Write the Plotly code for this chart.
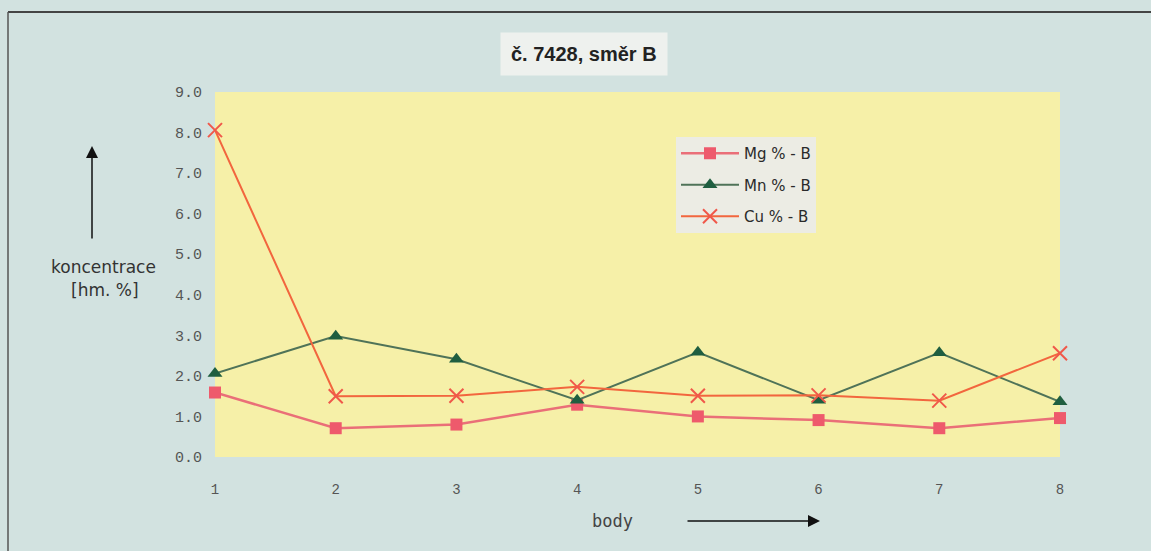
import plotly.graph_objects as go

# Measurement points along direction B
body = [1, 2, 3, 4, 5, 6, 7, 8]
mg = [1.59, 0.71, 0.80, 1.29, 1.00, 0.91, 0.71, 0.96]
mn = [2.06, 2.98, 2.41, 1.40, 2.58, 1.40, 2.57, 1.36]
cu = [8.06, 1.50, 1.51, 1.73, 1.51, 1.52, 1.39, 2.56]
y_ticks = [0, 1, 2, 3, 4, 5, 6, 7, 8, 9]

W, H = 1151, 551
L, R, T, B = 215, 91, 92, 94
PW, PH = W - L - R, H - T - B


def px(x):
    return (x - L) / PW


def py(y):
    return (H - B - y) / PH


fig = go.Figure()

fig.add_trace(go.Scatter(
    x=body, y=mg, name="Mg % - B", mode="lines+markers", legendgroup="a",
    line=dict(color="#ea6f78", width=2.5), cliponaxis=False,
    marker=dict(symbol="square", size=12, color="#ee5a6c"),
))
fig.add_trace(go.Scatter(
    x=body, y=mn, name="Mn % - B", mode="lines+markers", legendgroup="b",
    line=dict(color="#4f7358", width=2), cliponaxis=False,
    marker=dict(symbol="triangle-up", size=13, color="#1f5e40"),
))
fig.add_trace(go.Scatter(
    x=body, y=cu, name="Cu % - B", mode="lines+markers", legendgroup="c",
    line=dict(color="#f2663e", width=2), cliponaxis=False,
    marker=dict(symbol="x-thin", size=14, line=dict(color="#f0584a", width=2)),
))

mono = dict(family="Liberation Mono, Courier New, monospace", size=15, color="#555555")
sans = "DejaVu Sans, Verdana, sans-serif"

fig.update_layout(
    width=W, height=H,
    margin=dict(l=L, r=R, t=T, b=B),
    paper_bgcolor="#d2e2e0",
    plot_bgcolor="#f6f0a8",
    font=dict(family=sans, color="#333333"),
    showlegend=True,
    legend=dict(
        x=px(676), y=py(137), xanchor="left", yanchor="top",
        bgcolor="#ecece4", borderwidth=0,
        font=dict(family=sans, size=15, color="#2a2a2a"),
        tracegroupgap=9, itemwidth=58,
    ),
    xaxis=dict(
        range=[1, 8], tickvals=body, ticktext=[str(v) for v in body],
        showgrid=False, zeroline=False, showline=False,
        tickfont=dict(family=mono["family"], size=14, color="#555555"),
        ticks="", ticklabelstandoff=22,
    ),
    yaxis=dict(
        range=[0, 9], tickvals=y_ticks, tickformat=".1f",
        showgrid=False, zeroline=False, showline=False,
        tickfont=mono, ticks="", ticklabelstandoff=12,
    ),
)


def label(text, x, y, font):
    return dict(text=text, x=px(x), y=py(y), xref="paper", yref="paper",
                xanchor="center", yanchor="middle", showarrow=False, font=font)


title = label("<b>č. 7428, směr B</b>", 584, 54,
              dict(family="Liberation Sans, Arial, sans-serif", size=20, color="#222222"))
title.update(bgcolor="#eef1ee", borderpad=10)

annotations = [
    title,
    label("koncentrace", 103, 267, dict(family=sans, size=17, color="#333333")),
    label("[hm. %]", 105, 290, dict(family=sans, size=17, color="#333333")),
    label("body", 612, 521, dict(family="DejaVu Sans Mono, Courier New, monospace", size=17, color="#444444")),
    # axis direction arrows (tail offsets in pixels)
    dict(x=px(92), y=py(146), ax=0, ay=94, xref="paper", yref="paper",
         axref="pixel", ayref="pixel", text="", showarrow=True,
         arrowhead=2, arrowsize=1.6, arrowwidth=1.5, arrowcolor="#111111"),
    dict(x=px(820), y=py(521), ax=-134, ay=0, xref="paper", yref="paper",
         axref="pixel", ayref="pixel", text="", showarrow=True,
         arrowhead=2, arrowsize=1.6, arrowwidth=1.5, arrowcolor="#111111"),
]
fig.update_layout(annotations=annotations)

# outer frame lines
fig.update_layout(shapes=[
    dict(type="line", xref="paper", yref="paper", x0=px(8), x1=px(1151), y0=py(12), y1=py(12),
         line=dict(color="#444444", width=2)),
    dict(type="line", xref="paper", yref="paper", x0=px(8), x1=px(8), y0=py(12), y1=py(551),
         line=dict(color="#555555", width=1.5)),
])

fig.write_html("out.html")
